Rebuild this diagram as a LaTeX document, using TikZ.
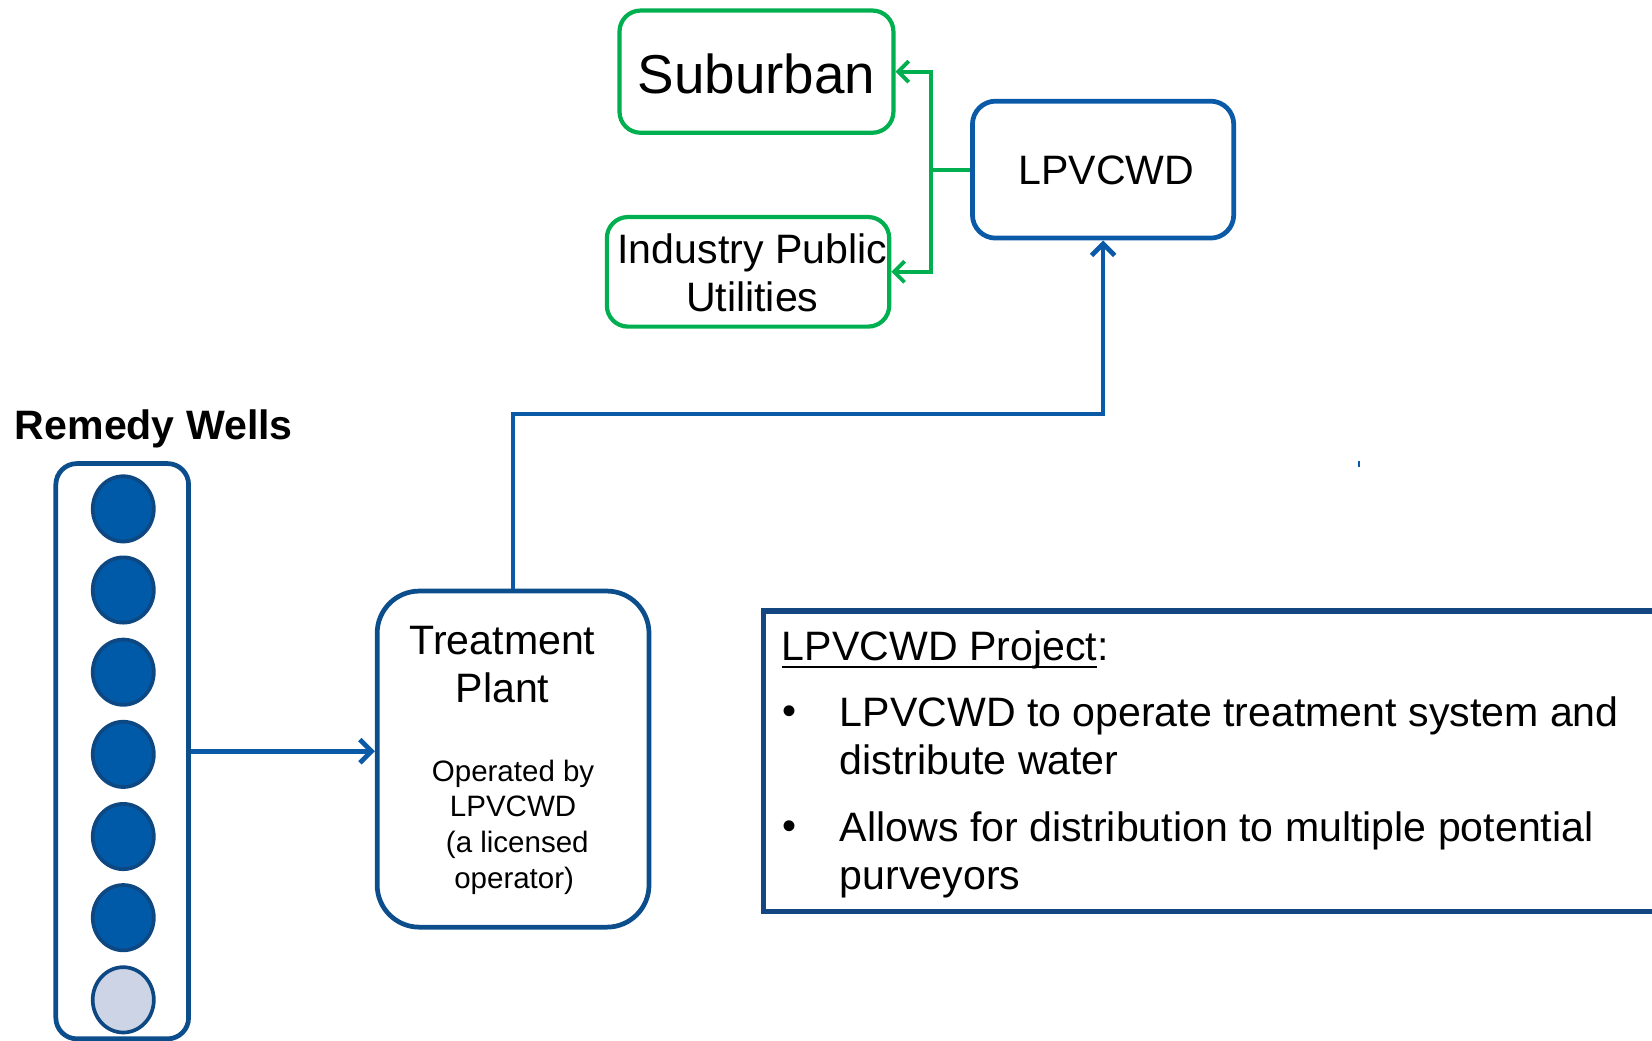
\documentclass[tikz,border=0pt]{standalone}
\usepackage{fontspec}
\setmainfont{Liberation Sans}
\usetikzlibrary{arrows.meta,calc,shapes.geometric}
\definecolor{lineblue}{RGB}{10,90,168}
\definecolor{boxblue}{RGB}{12,78,140}
\definecolor{projblue}{RGB}{20,70,130}
\definecolor{gr}{RGB}{0,176,80}
\definecolor{wellfill}{RGB}{0,90,168}
\definecolor{wellline}{RGB}{14,72,130}
\definecolor{welllight}{RGB}{205,212,230}
\begin{document}
\begin{tikzpicture}[x=1pt,y=-1pt,
  gbox/.style={draw=gr,line width=4pt,rounded corners=20pt,inner sep=0pt},
  bbox/.style={draw=lineblue,line width=4.5pt,rounded corners=22pt,inner sep=0pt},
  dbox/.style={draw=boxblue,line width=4.5pt,inner sep=0pt},
  well/.style={ellipse,draw=wellline,line width=3.5pt,fill=wellfill,minimum width=58pt,minimum height=62pt,inner sep=0pt},
  wellL/.style={well,fill=welllight},
  big/.style={font=\fontsize{39}{46}\selectfont},
  small/.style={font=\fontsize{28}{34}\selectfont},
  txt/.style={inner sep=0pt},
  gline/.style={draw=gr,line width=3.6pt},
  garrow/.style={gline,-{Straight Barb[length=10pt,width=20pt,line width=3.6pt]}},
  bline/.style={draw=lineblue,line width=4.5pt},
  barrow/.style={bline,-{Straight Barb[length=11pt,width=22pt,line width=4.5pt]}}
]
\useasboundingbox (0,0) rectangle (1568,988);

% boxes
\node[gbox,minimum width=260pt,minimum height=116pt] (sub) at (718,68) {};
\node[txt,font=\fontsize{52}{60}\selectfont] (subt) at (718,70) {Suburban};
\node[gbox,minimum width=268pt,minimum height=104pt] (ind) at (710,258) {};
\node[txt,big,align=center] (indt) at (714,259) {Industry Public\\Utilities};
\node[bbox,minimum width=248pt,minimum height=130pt] (lp) at (1047,161) {};
\node[txt,big] (lpt) at (1050,162) {LPVCWD};

% remedy wells
\node[txt,anchor=base west,font=\bfseries\fontsize{39}{46}\selectfont] (rw) at (14,417) {Remedy Wells};
\node[dbox,rounded corners=20pt,minimum width=126pt,minimum height=546pt] (wells) at (116,713) {};
\foreach \yy [count=\i] in {483,560,638,716,794,871}
  \node[well] (w\i) at (117,\yy) {};
\node[wellL] (w7) at (117,949) {};

% treatment plant
\node[dbox,rounded corners=40pt,minimum width=258pt,minimum height=319pt] (tp) at (487,720.5) {};
\node[txt,big,anchor=base] (tp1) at (477,621) {Treatment};
\node[txt,big,anchor=base] (tp2) at (477,667) {Plant};
\node[txt,small,anchor=base] (op1) at (487,742) {Operated by};
\node[txt,small,anchor=base] (op2) at (487,775) {LPVCWD};
\node[txt,small,anchor=base] (op3) at (491,809) {(a licensed};
\node[txt,small,anchor=base] (op4) at (488,843) {operator)};

% project box
\node[draw=projblue,line width=5pt,inner sep=0pt,minimum width=855pt,minimum height=285pt] (proj) at (1152.5,722.5) {};
\node[txt,big,anchor=base west] (pt) at (742,627) {LPVCWD Project};
\node[txt,big,anchor=base west] (ptc) at (pt.base east) {:};
\draw[line width=2.5pt] ($(pt.base west)+(0,6)$) -- ($(pt.base east)+(0,6)$);
\node[txt,font=\fontsize{38}{40}\selectfont,anchor=base] (bu1) at (749,688) {•};
\node[txt,big,anchor=base west] (l1) at (797,690) {LPVCWD to operate treatment system and};
\node[txt,big,anchor=base west] (l2) at (797,735) {distribute water};
\node[txt,font=\fontsize{38}{40}\selectfont,anchor=base] (bu2) at (749,797) {•};
\node[txt,big,anchor=base west] (l3) at (797,799) {Allows for distribution to multiple potential};
\node[txt,big,anchor=base west] (l4) at (797,844) {purveyors};

% connectors
\coordinate (gj) at (884,161);
\draw[gline] (lp.west) -- (gj);
\draw[garrow] (gj) |- (sub.east);
\draw[garrow] (gj) |- (ind.east);
\coordinate (bend) at (487,393);
\draw[barrow] (tp.north) -- (tp.north |- bend) -| (lp.south);
\draw[barrow] (wells.east) -- (wells.east -| tp.west);

% small stray mark
\draw[draw=lineblue,line width=2pt] (1290,438) -- (1290,443);
\end{tikzpicture}
\end{document}
